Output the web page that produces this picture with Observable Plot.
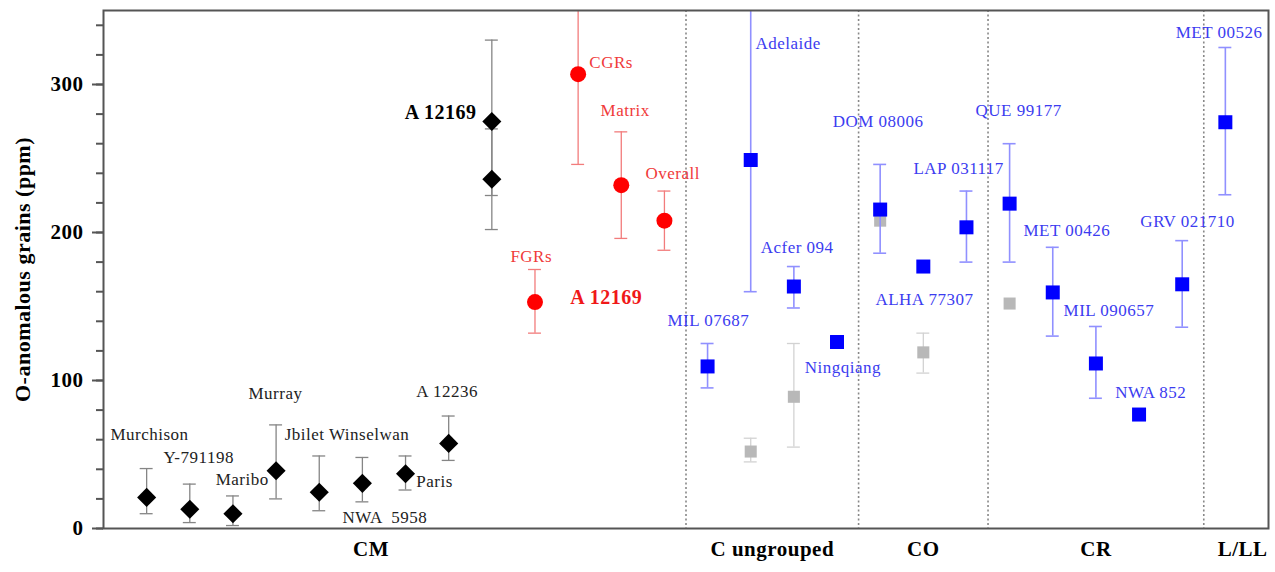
<!DOCTYPE html>
<html><head><meta charset="utf-8">
<script src="https://cdn.jsdelivr.net/npm/d3@7"></script>
<script src="https://cdn.jsdelivr.net/npm/@observablehq/plot@0.6"></script>
<style>body{margin:0;background:#fff} svg{display:block} svg text{letter-spacing:0.5px}</style>
</head><body><div id="chart"></div>
<script>
// ---- data ----
const cmNames = ["Murchison","Y-791198","Maribo","Murray","Jbilet Winselwan","NWA 5958","Paris","A 12236","A 12169","A 12169"];
const cmX  = [1,2,3,4,5,6,7,8,9,9];
const cmY  = [21,13,10,39,24.5,30.5,37,57.5,275,236];
const cmLo = [10,4,2,20,12,18,26,46,225,202];
const cmHi = [40.5,30,22,70,49,48,49,76,330,270];

const redNames = ["FGRs","CGRs","Matrix","Overall"];
const redX  = [10,11,12,13];
const redY  = [153,307,232,208];
const redLo = [132,246,196,188];
const redHi = [175,368,268,228];

const blueNames = ["MIL 07687","Adelaide","Acfer 094","Ningqiang","DOM 08006","ALHA 77307","LAP 031117","QUE 99177","MET 00426","MIL 090657","NWA 852","GRV 021710","MET 00526"];
const blueX  = [14,15,16,17,18,19,20,21,22,23,24,25,26];
const blueY  = [109.5,249,163.5,126,215.5,177,203.5,219.5,159.5,111.5,77,165,274.5];
const blueLo = [95,160,149,null,186,null,180,180,130,88,null,136,225.5];
const blueHi = [125,360,177,null,246,null,228,260,190,136.5,null,194.5,325];

const grayX  = [15,16,18,19,21];
const grayY  = [52,89,208,119,152];
const grayLo = [45,55,null,105,null];
const grayHi = [61,125,null,132,null];

// label anchors (left edge, vertical centre) in data units
const blackLabelText = ["Murchison","Y-791198","Maribo","Murray","Jbilet Winselwan","NWA  5958","Paris","A 12236"];
const blackLabelX = [0.16,1.39,2.60,3.36,4.20,5.54,7.25,7.25];
const blackLabelY = [63.5,48,33,91,63.5,7.4,31.8,92.6];
const boldBlackText = ["A 12169"], boldBlackX = [6.98], boldBlackY = [281];

const redLabelText = ["CGRs","Matrix","Overall","FGRs"];
const redLabelX = [11.26,11.52,12.56,9.43];
const redLabelY = [315,282.4,240,184];
const boldRedText = ["A 12169"], boldRedX = [10.82], boldRedY = [156];

const blueLabelText = ["Adelaide","DOM 08006","LAP 031117","Acfer 094","ALHA 77307","MIL 07687","Ningqiang","QUE 99177","MET 00426","GRV 021710","MET 00526","MIL 090657","NWA 852"];
const blueLabelX = [15.11,16.90,18.77,15.23,17.89,13.07,16.25,20.21,21.32,24.03,24.85,22.25,23.45];
const blueLabelY = [328,275,243,190,154.7,140.5,108.8,282.4,201,207.4,335,147,92];

const catNames = ["CM","C ungrouped","CO","CR","L/LL"];
const catX = [6.2,15.5,19,23,26.4];
const sepX = [13.5,17.5,20.5,25.5];
const yTicks = [0,100,200,300];
const yMinor = d3.range(0,351,20);

// ---- build ----
const rows = (xs,ys,lo,hi,names) => xs.map((x,i)=>({x, y:ys[i], lo:lo[i], hi:hi[i], name:names?names[i]:""}));
const cm = rows(cmX,cmY,cmLo,cmHi,cmNames);
const red = rows(redX,redY,redLo,redHi,redNames);
const blue = rows(blueX,blueY,blueLo,blueHi,blueNames);
const gray = rows(grayX,grayY,grayLo,grayHi);
const labels = (t,xs,ys) => t.map((s,i)=>({text:s, x:xs[i], y:ys[i]}));

const capW = 0.15;
function errMarks(data, color, sw) {
  const d = data.filter(r => r.lo != null);
  return [
    Plot.ruleX(d, {x:"x", y1:"lo", y2:"hi", stroke:color, strokeWidth:sw, clip:true}),
    Plot.ruleY(d, {y:"lo", x1:r=>r.x-capW, x2:r=>r.x+capW, stroke:color, strokeWidth:sw, clip:true}),
    Plot.ruleY(d, {y:"hi", x1:r=>r.x-capW, x2:r=>r.x+capW, stroke:color, strokeWidth:sw, clip:true})
  ];
}
const lab = (data, color, size, weight) => Plot.text(data, {x:"x", y:"y", text:"text", textAnchor:"start", fill:color, fontSize:size, fontWeight:weight});

const chart = Plot.plot({
  width: 1275, height: 572,
  marginLeft: 103, marginRight: 7, marginTop: 10, marginBottom: 44,
  x: {domain:[0,27], axis:null},
  y: {domain:[0,350], axis:null},
  style: {fontFamily:"'Liberation Serif', 'Times New Roman', serif", background:"#fff", color:"#000"},
  marks: [
    Plot.ruleX(sepX, {x:d=>d, stroke:"#888", strokeWidth:1.6, strokeDasharray:"2,2.5"}),
    ...errMarks(gray, "#d2d2d2", 1.3),
    Plot.dot(gray, {x:"x", y:"y", symbol:"square", r:6.8, fill:"#b8b8b8"}),
    ...errMarks(cm, "#858585", 1.3),
    ...errMarks(red, "#f27c7c", 1.3),
    ...errMarks(blue, "#9090ff", 1.6),
    Plot.dot(cm, {x:"x", y:"y", symbol:"diamond2", r:8.6, fill:"#000"}),
    Plot.dot(red, {x:"x", y:"y", symbol:"circle", r:8, fill:"#ff0000"}),
    Plot.dot(blue, {x:"x", y:"y", symbol:"square", r:7.9, fill:"#0000ff"}),
    lab(labels(blackLabelText,blackLabelX,blackLabelY), "#222", 17, "normal"),
    lab(labels(boldBlackText,boldBlackX,boldBlackY), "#000", 20, "bold"),
    lab(labels(redLabelText,redLabelX,redLabelY), "#f03a3a", 17, "normal"),
    lab(labels(boldRedText,boldRedX,boldRedY), "#f01818", 20, "bold"),
    lab(labels(blueLabelText,blueLabelX,blueLabelY), "#3c3cf0", 17, "normal"),
    Plot.frame({stroke:"#555", strokeWidth:2}),
    Plot.axisY({ticks:yMinor, tickSize:7, tickFormat:()=>"", stroke:"#555", strokeWidth:2, label:null}),
    Plot.axisY({ticks:yTicks, tickSize:11, tickPadding:9, tickFormat:d=>String(d), stroke:"#555", strokeWidth:2, fontSize:21, fontWeight:"bold", label:null}),
    Plot.text(["O-anomalous grains (ppm)"], {frameAnchor:"left", textAnchor:"middle", dx:-81, rotate:-90, fontSize:22, fontWeight:"bold", fill:"#000"}),
    Plot.text(catNames, {x:(d,i)=>catX[i], frameAnchor:"bottom", dy:27, fontSize:21, fontWeight:"bold", fill:"#000"})
  ]
});
document.getElementById("chart").appendChild(chart);
</script>
</body></html>
